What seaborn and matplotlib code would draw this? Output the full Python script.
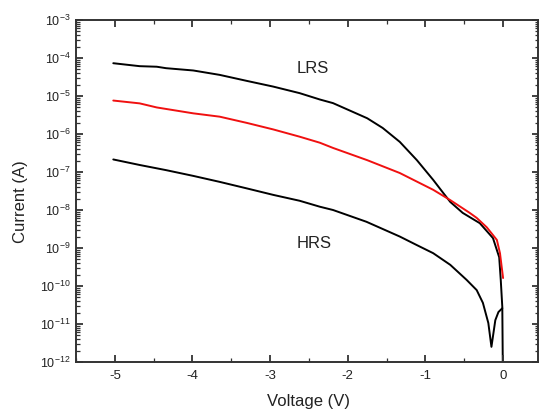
import matplotlib
matplotlib.use("Agg")
import matplotlib.pyplot as plt
import matplotlib.ticker as mticker
import numpy as np
import pandas as pd
import seaborn as sns

# Low-resistance state sweep
lrs_v = [-5.02, -4.68, -4.46, -4.34, -3.99, -3.65, -3.30, -2.96, -2.62, -2.36,
         -2.19, -1.75, -1.55, -1.33, -1.11, -0.90, -0.77, -0.68, -0.52, -0.30,
         -0.13, -0.05, -0.03, -0.01, 0.0]
lrs_i = [7.3e-5, 6.1e-5, 5.9e-5, 5.4e-5, 4.7e-5, 3.6e-5, 2.5e-5, 1.77e-5, 1.19e-5,
         8.1e-6, 6.5e-6, 2.6e-6, 1.44e-6, 6.2e-7, 2.05e-7, 6.2e-8, 2.8e-8,
         1.63e-8, 8.4e-9, 4.5e-9, 1.82e-9, 5.7e-10, 1.45e-10, 2.8e-11, 1.0e-13]

# Intermediate sweep (red)
mid_v = [-5.02, -4.68, -4.46, -3.99, -3.65, -3.30, -2.96, -2.62, -2.36, -2.19,
         -1.75, -1.33, -0.90, -0.68, -0.43, -0.34, -0.21, -0.08, -0.04, 0.0]
mid_i = [7.6e-6, 6.4e-6, 5.0e-6, 3.5e-6, 2.86e-6, 1.96e-6, 1.32e-6, 8.5e-7, 5.9e-7,
         4.3e-7, 2.05e-7, 9.4e-8, 3.4e-8, 1.82e-8, 8.4e-9, 6.2e-9, 3.5e-9, 1.63e-9,
         7.3e-10, 1.62e-10]

# High-resistance state sweep
hrs_v = [-5.02, -4.68, -4.34, -3.99, -3.65, -3.30, -2.96, -2.62, -2.36, -2.19,
         -1.76, -1.33, -1.11, -0.90, -0.68, -0.47, -0.34, -0.26, -0.19, -0.15,
         -0.10, -0.06, -0.01]
hrs_i = [2.14e-7, 1.53e-7, 1.12e-7, 7.9e-8, 5.5e-8, 3.7e-8, 2.5e-8, 1.75e-8, 1.22e-8,
         1.0e-8, 4.9e-9, 2.0e-9, 1.19e-9, 7.3e-10, 3.6e-10, 1.45e-10, 7.8e-11,
         3.6e-11, 1.06e-11, 2.5e-12, 1.26e-11, 2.06e-11, 2.6e-11]

state_labels = ["LRS", "HRS"]
x_ticks = [-5, -4, -3, -2, -1, 0]

sns.set_style("white")
plt.rcParams["font.family"] = ["Liberation Sans", "DejaVu Sans"]
plt.rcParams["mathtext.fontset"] = "custom"
plt.rcParams["mathtext.rm"] = "Liberation Sans"
plt.rcParams["mathtext.it"] = "Liberation Sans:italic"
plt.rcParams["axes.unicode_minus"] = False

fig = plt.figure(figsize=(5.41, 4.12), dpi=100)
ax = fig.add_axes([0.1405, 0.1214, 0.854, 0.830])

for v, i, color in [(lrs_v, lrs_i, "black"), (mid_v, mid_i, "#f01010"), (hrs_v, hrs_i, "black")]:
    df = pd.DataFrame({"V": v, "I": i})
    sns.lineplot(data=df, x="V", y="I", ax=ax, color=color, lw=1.4,
                 estimator=None, sort=False)

ax.set_yscale("log")
ax.set_xlim(-5.5, 0.45)
ax.set_ylim(1e-12, 1e-3)

ax.set_xticks(x_ticks)
ax.set_xticklabels([str(t) for t in x_ticks])
ax.xaxis.set_minor_locator(mticker.MultipleLocator(0.5))
ax.yaxis.set_major_locator(mticker.LogLocator(base=10, numticks=20))
ax.yaxis.set_minor_locator(mticker.LogLocator(base=10, subs=np.arange(2, 10), numticks=20))
ax.yaxis.set_minor_formatter(mticker.NullFormatter())

# Tick marks are drawn as plain line segments pointing into the frame on all four sides
ax.tick_params(which="both", length=0)
ax.tick_params(axis="x", labelsize=9.5, pad=6, labelcolor="#222222")
ax.tick_params(axis="y", labelsize=9, pad=4, labelcolor="#222222")

tick_col = "#333333"
x0, x1 = ax.get_xlim()
y0, y1 = ax.get_ylim()
xmaj = [t for t in ax.xaxis.get_majorticklocs() if x0 <= t <= x1]
xmin = [t for t in ax.xaxis.get_minorticklocs() if x0 <= t <= x1]
ymaj = [t for t in ax.yaxis.get_majorticklocs() if y0 * 0.999 <= t <= y1 * 1.001]
ymin = [t for t in ax.yaxis.get_minorticklocs() if y0 <= t <= y1]
xt = ax.get_xaxis_transform()
yt = ax.get_yaxis_transform()

# (positions, length along x-axis ticks, length along y-axis ticks, width)
for xs, ys, hx, hy, lw in [(xmaj, ymaj, 0.019, 0.0141, 1.3), (xmin, ymin, 0.0102, 0.0076, 0.9)]:
    ax.vlines(xs, 0, hx, transform=xt, colors=tick_col, lw=lw, clip_on=False)
    ax.vlines(xs, 1 - hx, 1, transform=xt, colors=tick_col, lw=lw, clip_on=False)
    ax.hlines(ys, 0, hy, transform=yt, colors=tick_col, lw=lw, clip_on=False)
    ax.hlines(ys, 1 - hy, 1, transform=yt, colors=tick_col, lw=lw, clip_on=False)

for s in ax.spines.values():
    s.set_color("#333333")
    s.set_linewidth(1.4)

ax.set_xlabel("Voltage (V)", fontsize=12, color="#222222")
ax.set_ylabel("Current (A)", fontsize=12, color="#222222")
ax.xaxis.set_label_coords(0.504, -0.093)
ax.yaxis.set_label_coords(-0.104, 0.47)

ax.text(-2.45, 5.3e-5, state_labels[0], fontsize=12, ha="center", va="center", color="#222222")
ax.text(-2.43, 1.3e-9, state_labels[1], fontsize=12, ha="center", va="center", color="#222222")

fig.savefig("out.png", dpi=100)
